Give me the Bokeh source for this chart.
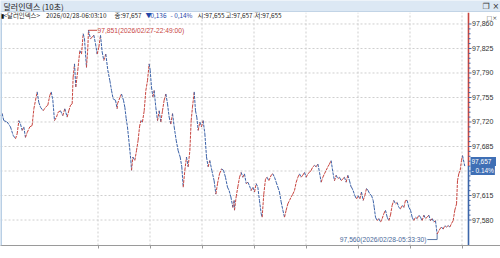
from bokeh.plotting import figure
from bokeh.models import Range1d, FixedTicker, Label, Span
from bokeh.layouts import column
from bokeh.embed import file_html
from bokeh.resources import INLINE
from bokeh.core.properties import value

# ---------------- data (minutes after 2026/02/27 21:07:30, price) ----------------
title_text = "달러인덱스 (10초)"

t_a = [0, 1.9, 3.8, 7.7, 11.5, 14.6, 17.3, 19.2, 21.2, 23.1, 25.0, 26.9, 28.8, 30.8, 33.8,
       36.5, 38.5, 40.4, 42.3, 44.2, 46.2, 49.2, 51.9, 54.6, 56.9, 58.5, 60.4, 62.3, 64.6, 66.5,
       69.2, 71.9, 74.2, 76.9, 78.8, 80.8, 82.7, 83.8, 85.4, 86.9, 89.2, 91.5, 93.5, 95.4, 96.9,
       99.2, 100.8, 101.5, 103.8, 105.8, 107.7, 109.6, 111.5, 113.5, 115.4, 117.3, 119.2, 121.5,
       123.8, 126.2, 128.1, 130.0, 132.7, 134.6]
p_a = [97.729, 97.732, 97.722, 97.720, 97.713, 97.701, 97.696, 97.703, 97.722, 97.717, 97.708,
       97.713, 97.698, 97.705, 97.713, 97.715, 97.739, 97.751, 97.763, 97.748, 97.741, 97.736,
       97.741, 97.744, 97.758, 97.763, 97.751, 97.722, 97.727, 97.734, 97.736, 97.729, 97.739,
       97.727, 97.736, 97.744, 97.746, 97.784, 97.803, 97.770, 97.794, 97.822, 97.817, 97.846,
       97.839, 97.798, 97.827, 97.851, 97.839, 97.841, 97.844, 97.832, 97.817, 97.827, 97.844,
       97.820, 97.808, 97.817, 97.794, 97.779, 97.765, 97.753, 97.751, 97.739]

t_b = [135, 138.1, 139.6, 141.9, 143.5, 145.0, 146.5, 148.5, 150.4, 151.2, 152.7, 155.0, 156.9,
       158.8, 160.4, 161.9, 163.8, 165.8, 167.7, 169.6, 171.5, 172.7, 174.2, 175.8, 177.3, 179.2,
       181.2, 183.1, 185.0, 186.9, 188.8, 190.8, 192.7, 194.6, 196.5, 198.5, 200.4, 202.7, 205.0,
       207.3, 209.2, 210.8, 212.7, 214.6, 216.5, 218.5, 220.0, 221.5, 223.5, 225.0, 226.5, 228.1,
       230.0, 231.9, 233.8, 235.8, 237.7, 239.6, 241.5, 243.8, 246.5, 248.5, 250.4, 252.7, 255.0,
       257.3, 259.6, 261.9, 263.8, 265.8, 268.1, 269.6]
p_b = [97.746, 97.756, 97.760, 97.751, 97.741, 97.725, 97.713, 97.689, 97.665, 97.651, 97.670,
       97.665, 97.679, 97.694, 97.713, 97.722, 97.720, 97.736, 97.765, 97.779, 97.803, 97.794,
       97.770, 97.756, 97.765, 97.741, 97.722, 97.736, 97.720, 97.736, 97.751, 97.760, 97.746,
       97.727, 97.717, 97.732, 97.713, 97.694, 97.679, 97.670, 97.656, 97.627, 97.651, 97.670,
       97.656, 97.679, 97.722, 97.741, 97.763, 97.736, 97.727, 97.708, 97.720, 97.713, 97.722,
       97.703, 97.670, 97.656, 97.665, 97.651, 97.636, 97.617, 97.632, 97.646, 97.653, 97.651,
       97.641, 97.627, 97.622, 97.613, 97.598, 97.608]

t_c = [270, 271.9, 273.8, 275.8, 277.7, 279.6, 281.5, 283.5, 285.4, 287.3, 289.2, 291.2, 293.1,
       295.0, 296.9, 298.8, 300.8, 301.9, 303.8, 305.8, 307.7, 309.6, 312.3, 314.2, 316.2, 318.1,
       320.0, 321.9, 323.8, 325.8, 327.7, 329.6, 331.5, 333.5, 335.4, 337.3, 339.2, 341.2, 343.1,
       345.0, 346.9, 348.8, 350.8, 352.7, 354.6, 356.5, 358.5, 360.4, 362.3, 364.2, 366.2, 368.1,
       370.0, 371.9, 373.8, 375.8, 377.7, 379.6, 381.5, 383.5, 385.4, 387.3, 389.2, 391.2, 393.1,
       395.0, 396.9, 398.8, 400.8, 402.7, 404.6]
p_c = [97.594, 97.613, 97.627, 97.641, 97.648, 97.641, 97.646, 97.632, 97.634, 97.629, 97.622,
       97.627, 97.620, 97.632, 97.627, 97.608, 97.589, 97.584, 97.617, 97.639, 97.641, 97.636,
       97.644, 97.646, 97.641, 97.634, 97.627, 97.620, 97.606, 97.594, 97.584, 97.594, 97.603,
       97.608, 97.613, 97.617, 97.622, 97.634, 97.641, 97.646, 97.641, 97.644, 97.648, 97.641,
       97.646, 97.648, 97.651, 97.656, 97.658, 97.656, 97.660, 97.648, 97.634, 97.641, 97.646,
       97.651, 97.656, 97.660, 97.665, 97.648, 97.636, 97.644, 97.639, 97.641, 97.636, 97.639,
       97.641, 97.634, 97.644, 97.636, 97.627]

t_d = [405, 406.9, 408.8, 410.8, 412.7, 414.6, 416.5, 418.5, 420.4, 422.3, 424.2, 426.2, 428.1,
       430.0, 431.2, 432.7, 434.6, 436.5, 438.5, 440.4, 442.3, 444.2, 446.2, 448.1, 450.0, 451.9,
       453.8, 455.8, 457.7, 459.6, 461.5, 463.5, 465.4, 467.3, 469.2, 471.2, 473.1, 475.0, 476.9,
       478.8, 480.8, 482.7, 484.6, 486.5, 488.5, 490.4, 492.3, 494.2, 496.2, 498.1, 500.0, 501.9,
       503.8, 506.9, 508.8, 510.8, 512.7, 514.6, 516.5, 518.5, 520.4, 522.3, 524.2, 526.2, 527.3,
       528.8, 530.4, 531.9, 533.1, 535.7]
p_d = [97.627, 97.622, 97.615, 97.610, 97.615, 97.610, 97.620, 97.608, 97.615, 97.625, 97.622,
       97.617, 97.615, 97.608, 97.598, 97.584, 97.579, 97.582, 97.577, 97.582, 97.589, 97.594,
       97.584, 97.579, 97.587, 97.601, 97.608, 97.603, 97.605, 97.598, 97.596, 97.601, 97.598,
       97.608, 97.608, 97.598, 97.594, 97.584, 97.579, 97.584, 97.582, 97.587, 97.584, 97.579,
       97.587, 97.582, 97.584, 97.587, 97.579, 97.582, 97.577, 97.579, 97.560, 97.567, 97.570,
       97.567, 97.572, 97.570, 97.572, 97.570, 97.575, 97.579, 97.594, 97.603, 97.636, 97.646,
       97.651, 97.665, 97.672, 97.657]

y_ticks = [97.580, 97.615, 97.650, 97.685, 97.720, 97.755, 97.790, 97.825, 97.860]
x_tick_pos = [112.5, 172.5, 232.5, 292.5, 352.5, 412.5, 472.5, 532.5]
x_tick_labels = ["23:00", "28-00:00", "01:00", "02:00", "03:00", "04:00", "05:00", "06:00"]
start_label = "2026/02/27-21:07:30"

max_price, max_t, max_text = 97.851, 101.5, "97,851(2026/02/27-22:49:00)"
min_price, min_t, min_text = 97.560, 503.8, "97,560(2026/02/28-05:33:30)"
last_price, last_change = "97,657", "- 0.14%"

info_chunks = [("<달러인덱스>", 3, "#222222"), ("2026/02/28-06:03:10", 45.5, "#222222"),
               ("종:97,657", 114, "#222222"), ("▼", 145, "#2346a8"), ("0,136", 150, "#2346a8"),
               ("- 0,14%", 170, "#2346a8"), ("시:97,655", 197, "#222222"),
               ("고:97,657", 225, "#222222"), ("저:97,655", 254, "#222222")]

# ---------------- styling ----------------
RED = "#c8453f"
BLUE = "#3b62a8"
AX_BLUE = "#3d66aa"
KR = value("Noto Sans CJK KR")
NUM = "Liberation Sans"
PX = 60.0 / 52.0          # minutes per screen pixel
T_END = 540.0             # right edge of the price area (pixel 468)

t = t_a + t_b + t_c + t_d
pr = p_a + p_b + p_c + p_d
n = min(len(t), len(pr))
t, pr = t[:n], pr[:n]
seg_colors = [RED if pr[i + 1] >= pr[i] else BLUE for i in range(n - 1)]
last_val = pr[-1]

# ---- title bar ----
top = figure(width=500, height=12, x_range=Range1d(0, 500), y_range=Range1d(0, 12),
             output_backend="svg", toolbar_location=None, min_border=0,
             x_axis_location=None, y_axis_location=None,
             background_fill_color="#dce8f4", border_fill_color="#dce8f4",
             outline_line_color=None)
top.grid.visible = False
top.text(x=[3], y=[6], text=[title_text], text_font=KR, text_font_size="8px",
         text_baseline="middle", text_color="#222222")
top.text(x=[482, 492], y=[6, 6], text=["❐", "×"], text_font=value("DejaVu Sans"),
         text_font_size="8px", text_baseline="middle", text_color="#333333")
top.segment(x0=[0], y0=[0.5], x1=[500], y1=[0.5], line_color="#a9c1d9", line_width=1)

# ---- main chart (frame spans the full width; right scale drawn by hand) ----
y_lo, y_hi = 97.5436, 97.8764
p = figure(width=500, height=246, x_range=Range1d(0, 500 * PX), y_range=Range1d(y_lo, y_hi),
           x_axis_location="below", y_axis_location=None,
           output_backend="svg", toolbar_location=None,
           min_border_left=0, min_border_right=0, min_border_top=0, min_border_bottom=13,
           outline_line_color=None, background_fill_color="white", border_fill_color="white")
p.grid.visible = False

p.xaxis.ticker = FixedTicker(ticks=x_tick_pos)
p.xaxis.major_label_text_alpha = 0
p.xaxis.major_label_text_font_size = "7px"
p.xaxis.major_label_standoff = 0
p.xaxis.major_tick_out = 3
p.xaxis.major_tick_in = 0
p.xaxis.minor_tick_out = 0
p.xaxis.axis_line_color = "#9a9a9a"
p.xaxis.major_tick_line_color = "#9a9a9a"

# grid lines
p.segment(x0=[0] * len(y_ticks), y0=y_ticks, x1=[T_END] * len(y_ticks), y1=y_ticks,
          line_color="#cfcfcf", line_dash="2 2", line_width=1)
p.segment(x0=x_tick_pos, y0=[y_lo] * len(x_tick_pos), x1=x_tick_pos, y1=[y_hi] * len(x_tick_pos),
          line_color="#cfcfcf", line_dash="2 2", line_width=1)

# price path
p.segment(x0=t[:-1], y0=pr[:-1], x1=t[1:], y1=pr[1:], line_color=seg_colors,
          line_width=1, line_dash="3 1")

# right price scale: bicolour line, ticks, labels
p.segment(x0=[T_END, T_END], y0=[y_hi, last_val], x1=[T_END, T_END], y1=[last_val, y_lo],
          line_color=[RED, AX_BLUE], line_width=1.6)
minor = []
for i in range(len(y_ticks) - 1):
    for k in range(1, 5):
        minor.append(y_ticks[i] + (y_ticks[i + 1] - y_ticks[i]) * k / 5)
p.segment(x0=[T_END] * len(y_ticks), y0=y_ticks, x1=[T_END + 3 * PX] * len(y_ticks), y1=y_ticks,
          line_color=AX_BLUE, line_width=1)
p.segment(x0=[T_END] * len(minor), y0=minor, x1=[T_END + 2 * PX] * len(minor), y1=minor,
          line_color=AX_BLUE, line_width=1)
for v in y_ticks:
    p.add_layout(Label(x=T_END, y=v, x_offset=3.5, text=f"{v:.3f}".replace(".", ","),
                       text_font=NUM, text_font_size="7px", text_color="#333333",
                       text_baseline="middle"))

p.add_layout(Span(location=0, dimension="height", line_color="#b9cfe5", line_width=3))

# max annotation
p.segment(x0=[max_t], y0=[max_price], x1=[max_t + 10], y1=[max_price], line_color=RED, line_width=1)
p.add_layout(Label(x=max_t + 10.5, y=max_price, text=max_text, text_font=NUM,
                   text_font_size="6.7px", text_color=RED, text_baseline="middle"))

# min annotation
min_lab_y = 97.5521
p.segment(x0=[492.5, min_t], y0=[min_lab_y, min_lab_y], x1=[min_t, min_t], y1=[min_lab_y, min_price],
          line_color="#5a77a6", line_width=1)
p.add_layout(Label(x=491.5, y=min_lab_y, text=min_text, text_font=NUM, text_font_size="6.7px",
                   text_color="#4a6a9a", text_baseline="middle", text_align="right"))

# x tick labels (left aligned to their tick)
p.add_layout(Label(x=0.8, y=-2, y_units="screen", text=start_label, text_font=NUM,
                   text_font_size="7px", text_color="#333333", text_baseline="top"))
for pos, lab in zip(x_tick_pos, x_tick_labels):
    p.add_layout(Label(x=pos, y=-2, y_units="screen", text=lab, text_font=NUM,
                       text_font_size="7px", text_color="#333333", text_baseline="top"))

# info row
p.add_layout(Label(x=0, y=230, x_units="screen", y_units="screen", text="▮", text_font_size="6px",
                   text_color="#111111", text_baseline="middle"))
for txt, xs, col in info_chunks:
    p.add_layout(Label(x=xs, y=230, x_units="screen", y_units="screen", text=txt,
                       text_font="Noto Sans CJK KR", text_font_size="6.4px", text_color=col,
                       text_baseline="middle"))
p.add_layout(Label(x=T_END, y=y_hi, x_offset=18, y_offset=-1, text="□×",
                   text_font="DejaVu Sans", text_font_size="6px", text_color="#555555",
                   text_baseline="top"))

# last price box
p.add_layout(Label(x=T_END, y=last_val, x_offset=2, text=last_price + "  ",
                   text_font=NUM, text_font_size="6.5px", text_color="white",
                   background_fill_color="#3f6fb5", text_baseline="bottom", padding=1))
p.add_layout(Label(x=T_END, y=last_val, x_offset=2, text=last_change,
                   text_font=NUM, text_font_size="6.5px", text_color="white",
                   background_fill_color="#3f6fb5", text_baseline="top", padding=1))

layout = column(top, p, spacing=0)
open("out.html", "w").write(file_html(layout, INLINE))
